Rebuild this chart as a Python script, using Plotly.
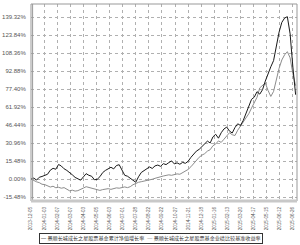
import plotly.graph_objects as go

# trading-day index of each sample (every 4 trading days)
day = list(range(0, 388, 4))

fund = [0, 0.8, -0.9, 1.5, 2.2, 3.0, 4.1, 7.6, 9.2, 8.4, 12.5, 11.2, 8.8, 7.4, 5.1, 3.6,
        1.4, 0.2, -1.0, 1.8, 4.6, 3.2, 2.4, -0.6, -0.3, 2.0, 5.5, 7.4, 9.0, 10.1, 8.7, 11.6,
        12.3, 7.1, 3.2, 2.4, 0.9, -1.2, -2.8, 1.9, 5.6, 7.2, 8.5, 10.4, 9.1, 11.3, 12.0, 10.9,
        13.2, 12.4, 14.1, 15.6, 13.0, 13.9, 12.7, 14.3, 13.5, 15.2, 18.6, 21.4, 24.0, 25.5,
        27.8, 29.4, 32.6, 31.0, 36.2, 38.5, 35.1, 39.8, 43.0, 44.7, 41.2, 39.6, 44.3, 47.5,
        46.0, 50.4, 56.8, 63.2, 68.5, 70.4, 75.1, 73.0, 76.8, 84.2, 91.0, 96.5, 101.8, 114.6,
        126.3, 134.7, 138.4, 139.6, 124.8, 96.3, 72.5]

bench = [0, -1.3, -2.4, -3.1, -4.5, -4.8, -5.6, -6.9, -6.2, -7.5, -7.1, -7.9, -7.4, -8.9,
         -10.1, -9.6, -10.4, -10.0, -9.2, -7.8, -6.6, -7.3, -7.9, -8.6, -9.4, -9.8, -9.1,
         -8.7, -8.3, -8.9, -8.1, -7.6, -7.9, -7.2, -6.8, -7.4, -6.6, -4.9, -3.5, -2.8, -2.3,
         -1.9, -1.2, -0.8, -0.2, 0.6, 1.4, 1.9, 2.6, 3.1, 3.6, 3.2, 3.9, 4.4, 4.1, 5.3, 6.6,
         8.2, 10.5, 13.4, 16.1, 18.7, 20.5, 21.8, 24.0, 25.2, 28.6, 30.1, 32.8, 31.5, 34.2,
         37.0, 39.8, 38.1, 37.4, 42.0, 45.3, 48.6, 52.4, 56.1, 61.0, 66.2, 70.3, 78.4, 80.1,
         82.6, 76.2, 71.0, 75.3, 86.8, 95.2, 102.4, 106.8, 109.5, 104.2, 90.5, 80.3]

tick_days = list(range(0, 381, 19))
tick_dates = ["2013-12-05", "2014-01-03", "2014-02-07", "2014-03-07", "2014-04-03",
              "2014-05-05", "2014-06-03", "2014-07-01", "2014-07-28", "2014-08-22",
              "2014-09-22", "2014-10-27", "2014-11-21", "2014-12-18", "2015-01-16",
              "2015-02-13", "2015-03-20", "2015-04-17", "2015-05-15", "2015-06-12",
              "2015-06-26"]

y_ticks = [-15.48, 0.0, 15.48, 30.96, 46.44, 61.92, 77.40, 92.88, 108.36, 123.84, 139.32]
y_labels = ["-15.48%", "0.00%", "15.48%", "30.96%", "46.44%", "61.92%", "77.40%",
            "92.88%", "108.36%", "123.84%", "139.32%"]

names = ["景顺长城成长之星股票基金累计净值增长率", "景顺长城成长之星股票基金业绩比较基准收益率"]

FONT = "Liberation Sans, Arial, Noto Sans CJK SC, sans-serif"

fig = go.Figure()
fig.add_trace(go.Scatter(x=day, y=bench, mode="lines", name=names[1],
                         line=dict(color="#8c8c8c", width=1), showlegend=False))
fig.add_trace(go.Scatter(x=day, y=fund, mode="lines", name=names[0],
                         line=dict(color="#1a1a1a", width=1), showlegend=False))

fig.update_layout(
    width=300, height=245,
    margin=dict(l=31, r=3, t=4, b=44),
    paper_bgcolor="white", plot_bgcolor="white",
    font=dict(family=FONT, size=6, color="#555"),
    xaxis=dict(range=[0, 386], tickvals=tick_days, ticktext=tick_dates, tickangle=-90,
               showgrid=True, gridcolor="#b0b0b0", griddash="dot", gridwidth=1,
               zeroline=False, showline=False, ticks="outside", ticklen=3,
               tickcolor="white", automargin=False,
               tickfont=dict(size=4.6, color="#555")),
    yaxis=dict(range=[-18.9, 150.5], tickvals=y_ticks, ticktext=y_labels,
               showgrid=True, gridcolor="#b0b0b0", griddash="dot", gridwidth=1,
               zeroline=False, showline=False, ticks="outside", ticklen=3,
               tickcolor="white", automargin=False,
               tickfont=dict(size=6, color="#555")),
    shapes=[
        dict(type="rect", xref="paper", yref="paper", x0=0, y0=0, x1=1, y1=1,
             line=dict(color="#999", width=1)),
        dict(type="line", xref="paper", yref="paper", x0=0.006, y0=0, x1=0.006, y1=1,
             line=dict(color="#999", width=1)),
        dict(type="line", xref="paper", yref="paper", x0=0, y0=0, x1=1, y1=0,
             line=dict(color="#c8c8c8", width=3)),
    ],
    annotations=[
        dict(xref="paper", yref="paper", x=0.45, y=-0.16, xanchor="center", yanchor="top",
             showarrow=False, bordercolor="#333", borderwidth=1, borderpad=1,
             font=dict(size=5.1, color="#333", family=FONT),
             text=("<span style='color:#1a1a1a'>—</span> " + names[0] +
                   "  <span style='color:#8c8c8c'>—</span> " + names[1]))
    ],
)

fig.write_html("out.html")
